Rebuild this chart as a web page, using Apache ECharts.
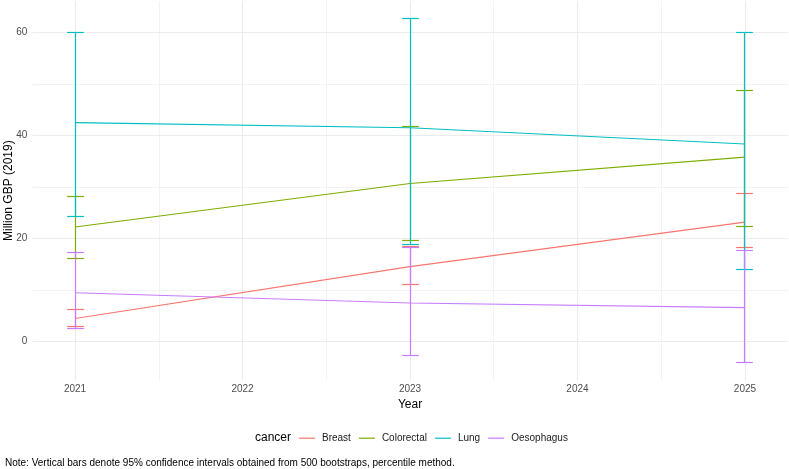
<!DOCTYPE html>
<html>
<head>
<meta charset="utf-8">
<script src="https://cdn.jsdelivr.net/npm/echarts@6/dist/echarts.min.js"></script>
<style>
  html, body { margin: 0; padding: 0; background: #fff; }
  #main { width: 789px; height: 469px; }
</style>
</head>
<body>
<div id="main"></div>
<script>
  // data
  var years = [2021, 2023, 2025];
  var cancers = ['Breast', 'Colorectal', 'Lung', 'Oesophagus'];
  var colors = ['#F8766D', '#7CAE00', '#00BFC4', '#C77CFF'];

  var breastMean = [4.5, 14.55, 23.2];
  var breastLow = [2.9, 11.0, 18.2];
  var breastHigh = [6.3, 18.5, 28.65];

  var colorectalMean = [22.25, 30.7, 35.8];
  var colorectalLow = [16.1, 19.7, 22.4];
  var colorectalHigh = [28.1, 41.7, 48.8];

  var lungMean = [42.5, 41.5, 38.35];
  var lungLow = [24.3, 18.9, 14.0];
  var lungHigh = [59.9, 62.7, 60.0];

  var oesoMean = [9.5, 7.5, 6.6];
  var oesoLow = [2.6, -2.6, -4.1];
  var oesoHigh = [17.3, 18.2, 17.65];

  var xTicks = [2021, 2022, 2023, 2024, 2025];
  var xMinor = [2021.5, 2022.5, 2023.5, 2024.5];
  var yTicks = [0, 20, 40, 60];
  var yMinor = [10, 30, 50];

  var means = [breastMean, colorectalMean, lungMean, oesoMean];
  var lows = [breastLow, colorectalLow, lungLow, oesoLow];
  var highs = [breastHigh, colorectalHigh, lungHigh, oesoHigh];

  var font = "'Liberation Sans', Arial, sans-serif";
  var chart = echarts.init(document.getElementById('main'));

  function gridLines() {
    var d = [];
    xTicks.forEach(function (v) { d.push({ xAxis: v, lineStyle: { width: 1.1, color: '#EBEBEB' } }); });
    xMinor.forEach(function (v) { d.push({ xAxis: v, lineStyle: { width: 0.6, color: '#EBEBEB' } }); });
    yTicks.forEach(function (v) { d.push({ yAxis: v, lineStyle: { width: 1.1, color: '#EBEBEB' } }); });
    yMinor.forEach(function (v) { d.push({ yAxis: v, lineStyle: { width: 0.6, color: '#EBEBEB' } }); });
    return d;
  }

  var series = [{
    name: 'grid',
    type: 'line',
    data: [],
    silent: true,
    z: 0,
    markLine: {
      z: 0,
      silent: true,
      symbol: ['none', 'none'],
      label: { show: false },
      lineStyle: { type: 'solid' },
      data: gridLines()
    }
  }];

  cancers.forEach(function (name, i) {
    series.push({
      name: name,
      type: 'line',
      color: colors[i],
      symbol: 'none',
      z: 2,
      lineStyle: { width: 1.1, color: colors[i] },
      data: years.map(function (y, j) { return [y, means[i][j]]; })
    });
  });

  // snap to pixel centres so the 1px bars stay crisp
  function px(v) { return Math.round(v - 0.5) + 0.5; }

  cancers.forEach(function (name, i) {
    series.push({
      name: name,
      type: 'custom',
      z: 3,
      silent: true,
      data: years.map(function (y, j) { return [y, lows[i][j], highs[i][j]]; }),
      renderItem: function (params, api) {
        var lo = api.coord([api.value(0), api.value(1)]);
        var hi = api.coord([api.value(0), api.value(2)]);
        var half = api.size([0.05, 0])[0];
        var x = px(lo[0]), y1 = px(lo[1]), y2 = px(hi[1]);
        var st = { stroke: colors[i], lineWidth: 1.2 };
        return {
          type: 'group',
          children: [
            { type: 'line', shape: { x1: x, y1: y1, x2: x, y2: y2 }, style: st },
            { type: 'line', shape: { x1: x - half, y1: y1, x2: x + half, y2: y1 }, style: st },
            { type: 'line', shape: { x1: x - half, y1: y2, x2: x + half, y2: y2 }, style: st }
          ]
        };
      }
    });
  });

  chart.setOption({
    animation: false,
    textStyle: { fontFamily: font },
    grid: { left: 32.3, right: 1.3, top: 1.3, bottom: 89, outerBoundsMode: 'none', containLabel: false },
    xAxis: {
      type: 'value',
      min: 2020.745,
      max: 2025.255,
      name: 'Year',
      nameLocation: 'middle',
      nameGap: 17,
      nameTextStyle: { fontSize: 12, color: '#000', fontFamily: font },
      axisLine: { show: false },
      axisTick: { show: false },
      splitLine: { show: false },
      axisLabel: {
        customValues: xTicks,
        formatter: function (v) { return String(v); },
        fontSize: 10,
        color: '#4D4D4D',
        margin: 4,
        fontFamily: font
      }
    },
    yAxis: {
      type: 'value',
      min: -7.44,
      max: 66.04,
      name: 'Million GBP (2019)',
      nameLocation: 'middle',
      nameGap: 18,
      nameMoveOverlap: false,
      nameTextStyle: { fontSize: 12, color: '#000', fontFamily: font },
      axisLine: { show: false },
      axisTick: { show: false },
      splitLine: { show: false },
      axisLabel: {
        customValues: yTicks,
        formatter: function (v) { return String(v); },
        fontSize: 10,
        color: '#4D4D4D',
        margin: 5,
        fontFamily: font
      }
    },
    legend: {
      data: cancers,
      left: 299,
      top: 433.2,
      padding: 0,
      icon: 'rect',
      itemWidth: 16,
      itemHeight: 1.2,
      itemGap: 8,
      textStyle: { fontSize: 10, color: '#1A1A1A', fontFamily: font, padding: [0, 0, 0, 2] }
    },
    graphic: [
      {
        type: 'text',
        left: 255,
        top: 431.5,
        style: { text: 'cancer', fontSize: 12, fill: '#000', fontFamily: font }
      },
      {
        type: 'text',
        left: 5,
        top: 458,
        style: {
          text: 'Note: Vertical bars denote 95% confidence intervals obtained from 500 bootstraps, percentile method.',
          fontSize: 10, fill: '#000', fontFamily: font
        }
      }
    ],
    series: series
  });
</script>
</body>
</html>
